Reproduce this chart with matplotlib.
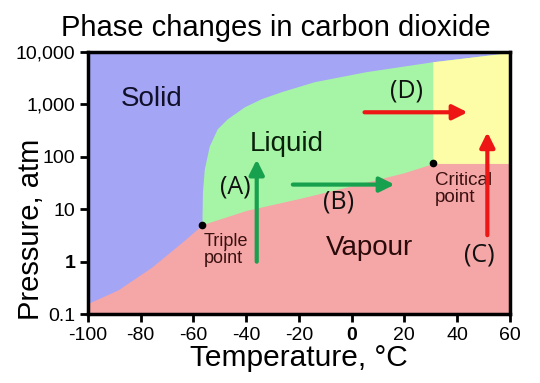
#!/usr/bin/env python3
# -*- coding: utf-8 -*-
"""
Phase diagram of carbon dioxide (pressure vs temperature, log scale)
"""

import matplotlib
matplotlib.use('Agg')
import matplotlib.pyplot as plt

# ---- data ----
# sublimation curve (solid / vapour)
sub_temp = [-100, -88.6, -75.8, -63.3, -56.6]
sub_pres = [0.16, 0.29, 0.79, 2.6, 5.1]

# vaporisation curve (liquid / vapour), triple point -> critical point
vap_temp = [-56.6, -40, -20, 0, 20, 31]
vap_pres = [5.1, 9.5, 16, 28, 50, 75]

# melting curve (solid / liquid + supercritical)
melt_temp = [-56.6, -56.4, -55.7, -53.8, -50.8, -47.0, -40.5, -34.1,
             -26.5, -14.0, 5.7, 31, 60]
melt_pres = [5.1, 20.8, 57, 158, 335, 520, 883, 1260,
             1715, 2660, 4140, 6400, 9550]

triple_pt = (-56.6, 5.1)
critical_pt = (31, 75)

x_ticks = [-100, -80, -60, -40, -20, 0, 20, 40, 60]
y_ticks = [0.1, 1, 10, 100, 1000, 10000]
y_tick_labels = ['0.1', '1', '10', '100', '1,000', '10,000']

# arrows: (label, start, end, colour, label position)
arrows = [
    ('(A)', (-36, 1.0), (-36, 89), '#17a04e', (-44, 27)),
    ('(B)', (-22.3, 29.6), (16.3, 29.6), '#17a04e', (-5, 13.5)),
    ('(C)', (51.5, 3.2), (51.5, 295), '#ee1515', (48.5, 1.35)),
    ('(D)', (4.9, 710), (44, 710), '#ee1515', (20.8, 1780)),
]

# colours
c_solid = '#a5a5f5'
c_liquid = '#a6f5a6'
c_vapour = '#f5a6a6'
c_super = '#fdfda8'

plt.rcParams['font.family'] = ['Liberation Sans', 'DejaVu Sans']
plt.rcParams['axes.unicode_minus'] = False

fig = plt.figure(figsize=(5.4, 3.83), dpi=100)
ax = fig.add_axes([0.163, 0.180, 0.781, 0.684])
ax.set_yscale('log')
ax.set_xlim(-100, 60)
ax.set_ylim(0.1, 10000)
ax.set_facecolor(c_solid)

# liquid region: right of / below the melting curve
ax.fill(melt_temp + [60, -56.6], melt_pres + [0.1, 0.1],
        color=c_liquid, lw=0, zorder=1)

# supercritical region: T above the critical temperature
sc_t = [t for t in melt_temp if t >= critical_pt[0]]
sc_p = [p for t, p in zip(melt_temp, melt_pres) if t >= critical_pt[0]]
ax.fill([critical_pt[0]] + sc_t + [60], [0.1] + sc_p + [0.1],
        color=c_super, lw=0, zorder=2)

# vapour region: below sublimation + vaporisation curves
low_t = sub_temp + vap_temp[1:] + [60]
low_p = sub_pres + vap_pres[1:] + [critical_pt[1]]
ax.fill_between(low_t, 0.1, low_p, color=c_vapour, lw=0, zorder=3)

# triple and critical point
ax.plot(*triple_pt, 'o', color='black', ms=4.5, zorder=5)
ax.plot(*critical_pt, 'o', color='black', ms=4.5, zorder=5)
ax.text(-56.0, 3.6, 'Triple\npoint', fontsize=13, color='#3a1010',
        ha='left', va='top', linespacing=1.05, zorder=6)
ax.text(31.5, 52, 'Critical\npoint', fontsize=13.5, color='#3a1010',
        ha='left', va='top', linespacing=1.05, zorder=6)

# phase names
ax.text(-75.8, 1260, 'Solid', fontsize=20, ha='center', va='center', color='#10102a', zorder=6)
ax.text(-24.6, 174, 'Liquid', fontsize=20, ha='center', va='center', color='#0a200a', zorder=6)
ax.text(6.8, 1.84, 'Vapour', fontsize=20, ha='center', va='center', color='#2a0a0a', zorder=6)

# arrows with their labels
for label, start, end, color, pos in arrows:
    ax.annotate('', xy=end, xytext=start, zorder=7,
                arrowprops=dict(arrowstyle='-|>', color=color, lw=3,
                                mutation_scale=22, shrinkA=0, shrinkB=0))
    ax.text(pos[0], pos[1], label, fontsize=18, ha='center', va='center',
            family=['Open Sans', 'DejaVu Sans'], color='#111111', zorder=7)

# axes styling
ax.set_xticks(x_ticks)
ax.set_yticks(y_ticks)
ax.set_yticklabels(y_tick_labels)
ax.minorticks_off()
ax.tick_params(axis='both', direction='out', length=6, width=2,
               labelsize=14, pad=3)
ax.get_xticklabels()[5].set_fontweight('bold')
ax.get_yticklabels()[1].set_fontweight('bold')
for sp in ax.spines.values():
    sp.set_linewidth(2.5)
    sp.set_zorder(10)

ax.set_xlabel('Temperature, °C', fontsize=21.5, labelpad=0)
fig.text(31 / 540, 1 - 229 / 383, 'Pressure, atm', fontsize=21,
         rotation=90, ha='center', va='center')
fig.text(0.511, 0.928, 'Phase changes in carbon dioxide', fontsize=21,
         ha='center', va='center')

plt.savefig('out.png', dpi=100)
plt.close()
